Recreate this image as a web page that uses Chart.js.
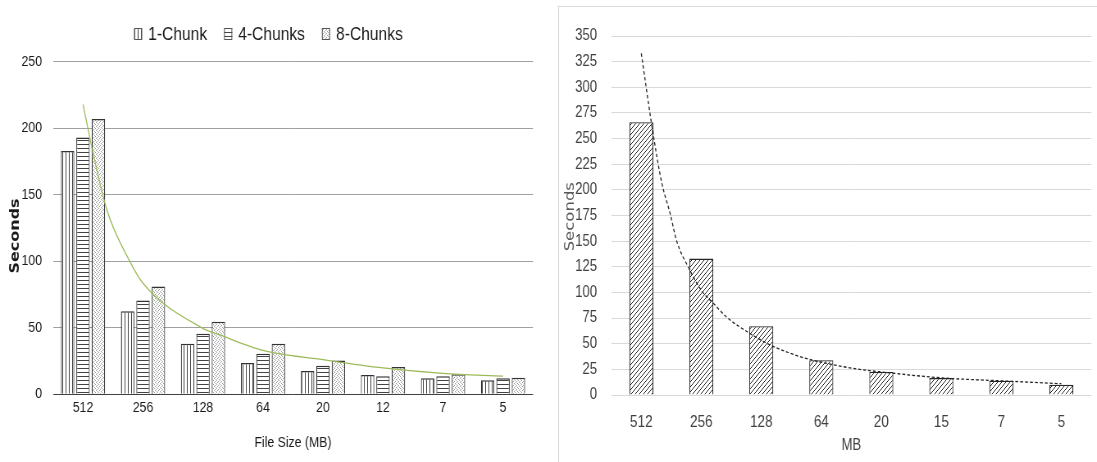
<!DOCTYPE html>
<html>
<head>
<meta charset="utf-8">
<script src="https://cdn.jsdelivr.net/npm/chart.js@4.4.1/dist/chart.umd.min.js"></script>
<style>
  body { margin: 0; background: #fff; width: 1097px; height: 462px; overflow: hidden; position: relative; }
  canvas { position: absolute; }
  #frame { position: absolute; left: 558px; top: 6px; width: 600px; height: 500px; border: 1px solid #d9d9d9; }
</style>
</head>
<body>
<canvas id="leftChart" style="left:0;top:0"></canvas>
<canvas id="leftTrend" style="left:0;top:0"></canvas>
<div id="frame"></div>
<canvas id="rightChart" style="left:559px;top:7px"></canvas>
<canvas id="rightTrend" style="left:559px;top:7px"></canvas>
<script>
// the original picture is squeezed sideways, so draw wide and shrink the canvas
const SQ = 0.82;

// left chart: three chunk settings per file size
const fileSizes = ['512', '256', '128', '64', '20', '12', '7', '5'];
const seriesNames = ['1-Chunk', '4-Chunks', '8-Chunks'];
const oneChunk = [183, 62.5, 38, 23.5, 17.5, 14.5, 12, 10.5];
const fourChunks = [193, 70.5, 45.5, 30.5, 21.5, 13.5, 13.5, 12];
const eightChunks = [207, 81, 54.5, 38, 25.5, 20.5, 15, 12.5];
// green trend curve, x = category position (1 = first group)
const leftTrendX = [1, 1.155, 1.395, 1.78, 2, 2.98, 3.28, 4, 5, 6, 7, 8];
const leftTrendY = [218, 184, 139, 100, 83.5, 50, 44.6, 33, 26, 19.8, 15.7, 13.7];

// right chart
const mbLabels = ['512', '256', '128', '64', '20', '15', '7', '5'];
const mbSeconds = [266, 133, 67, 34, 22.5, 16.5, 14, 10];
const mbTrendX = [1, 1.18, 1.34, 1.48, 1.59, 1.78, 2, 2.2, 2.42, 2.81, 3.14, 3.64, 4.2, 4.64, 5, 6, 7, 8];
const mbTrendY = [333, 261, 207, 177, 150, 125, 102, 89.5, 76, 60, 49, 37.5, 29.5, 25, 22.5, 16.7, 13.8, 11];

function setupCanvas(id, cssW, cssH) {
    const c = document.getElementById(id);
    c.width = Math.round(cssW / SQ);
    c.height = cssH;
    c.style.width = cssW + 'px';
    c.style.height = cssH + 'px';
    return c;
}

function makePattern(w, h, draw) {
    const c = document.createElement('canvas');
    c.width = w;
    c.height = h;
    const g = c.getContext('2d');
    g.fillStyle = '#fff';
    g.fillRect(0, 0, w, h);
    draw(g);
    return g.createPattern(c, 'repeat');
}

const vStripes = makePattern(4, 4, g => { g.fillStyle = '#444'; g.fillRect(0, 0, 1, 4); });
const hStripes = makePattern(4, 4, g => { g.fillStyle = '#444'; g.fillRect(0, 0, 4, 1); });
const dots = makePattern(4, 4, g => {
    g.fillStyle = '#999';
    g.fillRect(0, 0, 1, 1);
    g.fillRect(2, 1, 1, 1);
    g.fillRect(1, 2, 1, 1);
    g.fillRect(3, 3, 1, 1);
});
const hatch = makePattern(5, 5, g => {
    g.strokeStyle = '#222';
    g.lineWidth = 1;
    g.beginPath();
    g.moveTo(-1, 1); g.lineTo(1, -1);
    g.moveTo(0, 5); g.lineTo(5, 0);
    g.moveTo(4, 6); g.lineTo(6, 4);
    g.stroke();
});

const FONT = "'Liberation Sans', Arial, sans-serif";

// trend curve on its own transparent canvas laid exactly over the plot area
function trendOverlay(id, box, yMax, xs, ys, lineStyle) {
    const c = setupCanvas(id, box.w, box.h);
    const k = c.width / box.w;
    return new Chart(c, {
        type: 'line',
        data: {
            datasets: [Object.assign({
                data: xs.map((x, i) => ({ x: x, y: ys[i] })),
                pointRadius: 0,
                cubicInterpolationMode: 'monotone',
                fill: false
            }, lineStyle)]
        },
        options: {
            responsive: false,
            animation: false,
            layout: { padding: { left: box.left * k, right: (box.w - box.right) * k, top: box.top, bottom: box.h - box.bottom } },
            plugins: { legend: { display: false }, tooltip: { enabled: false } },
            scales: {
                x: { type: 'linear', display: false, min: 0.5, max: 8.5 },
                y: { display: false, min: 0, max: yMax }
            }
        }
    });
}

// ---------- left chart ----------
const leftCss = { w: 545, h: 462, left: 53, right: 533, top: 61.8, bottom: 394.3 };
const leftCanvas = setupCanvas('leftChart', leftCss.w, leftCss.h);
const kL = leftCanvas.width / leftCss.w;

const leftDecor = {
    id: 'leftDecor',
    afterDraw(chart) {
        const ctx = chart.ctx;
        const area = chart.chartArea;
        ctx.save();
        ctx.textBaseline = 'middle';

        // legend
        ctx.font = '19px ' + FONT;
        const fills = [vStripes, hStripes, dots];
        let x = 134 * kL;
        for (let i = 0; i < seriesNames.length; i++) {
            ctx.fillStyle = fills[i];
            ctx.fillRect(x, 28, 10, 12);
            ctx.strokeStyle = '#555';
            ctx.lineWidth = 1;
            ctx.strokeRect(x + 0.5, 28.5, 9, 11);
            x += 10 + 6 * kL;
            ctx.fillStyle = '#1a1a1a';
            ctx.textAlign = 'left';
            ctx.fillText(seriesNames[i], x, 34.5);
            x += ctx.measureText(seriesNames[i]).width + 17 * kL;
        }

        // axis titles
        ctx.textAlign = 'center';
        ctx.font = '15px ' + FONT;
        ctx.fillText('File Size (MB)', (area.left + area.right) / 2, 443);

        ctx.translate(15.5 * kL, 236);
        ctx.rotate(-Math.PI / 2);
        ctx.font = "bold 16px 'DejaVu Sans', Verdana, sans-serif";
        ctx.fillText('Seconds', 0, 0);
        ctx.restore();
    }
};

const barStyle = {
    borderColor: '#333',
    borderWidth: { top: 1.5, left: 1.2, right: 1.2, bottom: 0 },
    categoryPercentage: 0.77,
    barPercentage: 0.87
};

new Chart(leftCanvas, {
    type: 'bar',
    data: {
        labels: fileSizes,
        datasets: [
            Object.assign({ label: seriesNames[0], data: oneChunk, backgroundColor: vStripes }, barStyle),
            Object.assign({ label: seriesNames[1], data: fourChunks, backgroundColor: hStripes }, barStyle),
            Object.assign({ label: seriesNames[2], data: eightChunks, backgroundColor: dots }, barStyle)
        ]
    },
    options: {
        responsive: false,
        animation: false,
        layout: { padding: { left: 0, top: leftCss.top, right: (leftCss.w - leftCss.right) * kL, bottom: 0 } },
        plugins: { legend: { display: false }, tooltip: { enabled: false } },
        scales: {
            x: {
                grid: { display: false },
                border: { display: false },
                ticks: { font: { family: FONT, size: 15 }, color: '#1a1a1a', padding: -3 },
                afterFit(axis) { axis.height = leftCss.h - leftCss.bottom; }
            },
            y: {
                min: 0,
                max: 250,
                ticks: { stepSize: 50, font: { family: FONT, size: 15 }, color: '#1a1a1a', padding: 11 * kL },
                grid: {
                    drawTicks: false,
                    color: c => (c.tick && c.tick.value === 0) ? '#404040' : '#a0a0a0'
                },
                border: { display: false },
                afterFit(axis) { axis.width = leftCss.left * kL; }
            }
        }
    },
    plugins: [leftDecor]
});

trendOverlay('leftTrend', leftCss, 250, leftTrendX, leftTrendY, { borderColor: '#9bbb59', borderWidth: 1.3 });

// ---------- right chart ----------
const rightCss = { w: 538, h: 455, left: 52.3, right: 532.3, top: 29, bottom: 388 };
const rightCanvas = setupCanvas('rightChart', rightCss.w, rightCss.h);
const kR = rightCanvas.width / rightCss.w;

const rightDecor = {
    id: 'rightDecor',
    afterDraw(chart) {
        const ctx = chart.ctx;
        const area = chart.chartArea;
        ctx.save();
        ctx.fillStyle = '#404040';
        ctx.textBaseline = 'middle';
        ctx.textAlign = 'center';
        ctx.font = '16px ' + FONT;
        ctx.fillText('MB', (area.left + area.right) / 2, 439);

        ctx.translate(11 * kR, 209.7);
        ctx.rotate(-Math.PI / 2);
        ctx.font = "16.5px 'DejaVu Sans', sans-serif";
        ctx.fillStyle = '#595959';
        ctx.fillText('Seconds', 0, 0);
        ctx.restore();
    }
};

new Chart(rightCanvas, {
    type: 'bar',
    data: {
        labels: mbLabels,
        datasets: [{
            label: 'Seconds',
            data: mbSeconds,
            backgroundColor: hatch,
            borderColor: '#262626',
            borderWidth: { top: 1.3, left: 1.2, right: 1.2, bottom: 0 },
            categoryPercentage: 0.8,
            barPercentage: 0.5
        }]
    },
    options: {
        responsive: false,
        animation: false,
        layout: { padding: { left: 0, top: rightCss.top, right: (rightCss.w - rightCss.right) * kR, bottom: 0 } },
        plugins: { legend: { display: false }, tooltip: { enabled: false } },
        scales: {
            x: {
                grid: { display: false },
                border: { display: false },
                ticks: { font: { family: FONT, size: 16.5 }, color: '#404040', padding: 9.5 },
                afterFit(axis) { axis.height = rightCss.h - rightCss.bottom; }
            },
            y: {
                min: 0,
                max: 350,
                ticks: { stepSize: 25, font: { family: FONT, size: 16 }, color: '#404040', padding: 14.3 * kR },
                grid: { drawTicks: false, color: '#d9d9d9' },
                border: { display: false },
                afterFit(axis) { axis.width = rightCss.left * kR; }
            }
        }
    },
    plugins: [rightDecor]
});

trendOverlay('rightTrend', rightCss, 350, mbTrendX, mbTrendY, { borderColor: '#222', borderWidth: 1.3, borderDash: [3.5, 2.5] });
</script>
</body>
</html>
